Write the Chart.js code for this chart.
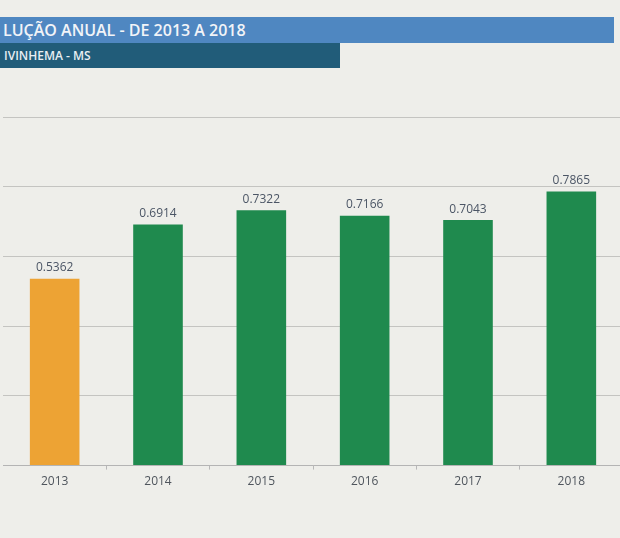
<!doctype html>
<html lang="pt">
<head>
<meta charset="UTF-8">
<title>Evolução anual - Ivinhema</title>
<script src="https://cdn.jsdelivr.net/npm/chart.js"></script>
<style>
  html, body {
    margin: 0;
    padding: 0;
    width: 620px;
    height: 538px;
    overflow: hidden;
    background: #eeeeea;
    font-family: "Open Sans", sans-serif;
  }
  .band-title {
    position: absolute;
    left: 0;
    top: 17px;
    width: 614px;
    height: 26px;
    background: #4f87c1;
    color: #f2f4f8;
    font-weight: 600;
    font-size: 16px;
    line-height: 26px;
    padding-left: 3px;
    box-sizing: border-box;
  }
  .band-sub {
    position: absolute;
    left: 0;
    top: 43px;
    width: 340px;
    height: 25px;
    background: #215c79;
    color: #e8eef2;
    font-weight: 600;
    font-size: 12px;
    line-height: 25px;
    padding-left: 4px;
    box-sizing: border-box;
  }
  .chart-wrap {
    position: absolute;
    left: 3px;
    top: 0;
    width: 620px;
    height: 538px;
  }
</style>
</head>
<body>
<div class="chart-wrap"><canvas id="chart" width="620" height="538"></canvas></div>
<div class="band-title">LUÇÃO ANUAL - DE 2013 A 2018</div>
<div class="band-sub">IVINHEMA - MS</div>

<script>
  const years = ['2013', '2014', '2015', '2016', '2017', '2018'];
  const indexValues = [0.5362, 0.6914, 0.7322, 0.7166, 0.7043, 0.7865];
  const barColors = ['#eda334', '#1f8a4e', '#1f8a4e', '#1f8a4e', '#1f8a4e', '#1f8a4e'];
  const yTicks = [0, 0.2, 0.4, 0.6, 0.8, 1.0];

  // draws the value above each bar
  const valueLabels = {
    id: 'valueLabels',
    afterDatasetsDraw(chart) {
      const ctx = chart.ctx;
      const meta = chart.getDatasetMeta(0);
      ctx.save();
      ctx.font = '12px "Open Sans", sans-serif';
      ctx.fillStyle = '#4b5565';
      ctx.textAlign = 'center';
      ctx.textBaseline = 'bottom';
      meta.data.forEach((bar, i) => {
        ctx.fillText(indexValues[i].toFixed(4), bar.x, bar.y - 5);
      });
      ctx.restore();
    }
  };

  const ctx = document.getElementById('chart').getContext('2d');
  new Chart(ctx, {
    type: 'bar',
    data: {
      labels: years,
      datasets: [{
        data: indexValues,
        backgroundColor: barColors,
        borderWidth: 0,
        categoryPercentage: 1,
        barPercentage: 0.48
      }]
    },
    options: {
      responsive: false,
      animation: false,
      layout: { padding: { top: 117, bottom: 44, left: 0, right: 0 } },
      plugins: {
        legend: { display: false },
        tooltip: { enabled: false }
      },
      scales: {
        x: {
          grid: { display: true, drawOnChartArea: false, drawTicks: true, tickLength: 4, color: '#b8b8b8' },
          border: { display: true, color: '#b4b4b4' },
          ticks: { color: '#4f555d', font: { family: 'Open Sans', size: 12 }, padding: 5 }
        },
        y: {
          min: 0,
          max: 1,
          afterBuildTicks(axis) {
            axis.ticks = yTicks.map(v => ({ value: v }));
          },
          ticks: { display: false },
          grid: { color: '#c4c4c1', drawTicks: false },
          border: { display: false }
        }
      }
    },
    plugins: [valueLabels]
  });
</script>
</body>
</html>
